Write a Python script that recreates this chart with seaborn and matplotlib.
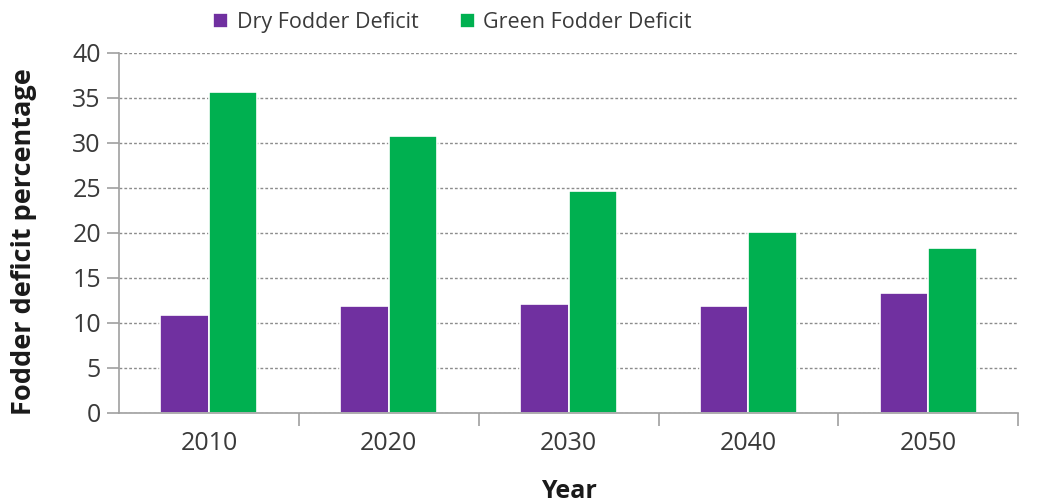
import matplotlib
matplotlib.use("Agg")
import matplotlib.pyplot as plt
import seaborn as sns
import pandas as pd
from matplotlib.ticker import FixedLocator

years = ["2010", "2020", "2030", "2040", "2050"]
dry = [10.9, 11.9, 12.1, 11.9, 13.3]
green = [35.6, 30.7, 24.6, 20.1, 18.3]
series_names = ["Dry Fodder Deficit", "Green Fodder Deficit"]
colors = ["#7030A0", "#00B050"]

df = pd.DataFrame({
    "Year": years * 2,
    "Value": dry + green,
    "Series": [series_names[0]] * len(years) + [series_names[1]] * len(years),
})

sns.set_theme(style="white")
plt.rcParams["font.family"] = ["Open Sans", "DejaVu Sans"]

fig = plt.figure(figsize=(10.38, 5.04), dpi=100)
ax = fig.add_axes([0.1146, 0.1806, 0.981 - 0.1146, 0.8954 - 0.1806])

sns.barplot(data=df, x="Year", y="Value", hue="Series", palette=colors,
            width=0.54, edgecolor="white", linewidth=1.2, ax=ax,
            saturation=1, legend=True)

ax.set_ylim(0, 40)
ax.set_xlim(-0.5, 4.5)
ax.set_yticks(range(0, 41, 5))
ax.yaxis.grid(True, color="#8c8c8c", linestyle=(0, (2, 1.5)), linewidth=1.0)
ax.xaxis.grid(False)
ax.set_axisbelow(True)

for s in ["top", "right"]:
    ax.spines[s].set_visible(False)
for s in ["left", "bottom"]:
    ax.spines[s].set_color("#a0a0a0")
    ax.spines[s].set_linewidth(1.2)

ax.tick_params(axis="y", which="major", left=True, length=9, width=1.2,
               color="#a0a0a0", labelsize=18, labelcolor="#3a3a3a", pad=4)
ax.tick_params(axis="x", which="major", bottom=False, length=0,
               labelsize=18, labelcolor="#3a3a3a", pad=13)
ax.xaxis.set_minor_locator(FixedLocator([0.5, 1.5, 2.5, 3.5, 4.5]))
ax.tick_params(axis="x", which="minor", bottom=True, length=9, width=1.2,
               color="#a0a0a0")

ax.set_xlabel("Year", fontsize=18, fontweight="bold", color="#1a1a1a")
ax.xaxis.set_label_coords(0.5, -0.182)
ax.set_ylabel("Fodder deficit percentage", fontsize=19.5, fontweight="bold",
              color="#1a1a1a")
ax.yaxis.set_label_coords(-0.0915, 0.475)

handles, labels = ax.get_legend_handles_labels()
ax.get_legend().remove()
fig.legend(handles, labels, loc="upper center", bbox_to_anchor=(0.436, 1.015),
           ncol=2, frameon=False, fontsize=15.5, handlelength=0.7,
           handleheight=0.7, handletextpad=0.4, columnspacing=1.9,
           labelcolor="#3a3a3a")

fig.savefig("out.png", dpi=100)
